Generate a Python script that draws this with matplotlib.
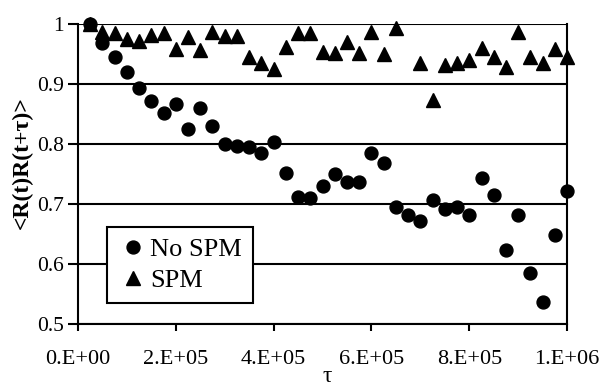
import numpy as np
import matplotlib
matplotlib.use("Agg")
import matplotlib.pyplot as plt

tau = [25000 * k for k in range(1, 41)]
no_spm = [1.0, 0.968, 0.945, 0.92, 0.893, 0.872, 0.851, 0.867, 0.825, 0.86,
          0.83, 0.80, 0.797, 0.795, 0.785, 0.803, 0.752, 0.712, 0.71, 0.73,
          0.75, 0.737, 0.737, 0.785, 0.768, 0.695, 0.682, 0.672, 0.707, 0.692,
          0.695, 0.682, 0.743, 0.715, 0.623, 0.682, 0.585, 0.537, 0.648, 0.722]
spm = [1.0, 0.987, 0.985, 0.975, 0.972, 0.982, 0.985, 0.958, 0.978, 0.957,
       0.987, 0.98, 0.98, 0.945, 0.935, 0.925, 0.962, 0.985, 0.985, 0.953,
       0.952, 0.97, 0.952, 0.987, 0.95, 0.993, np.nan, 0.935, 0.873, 0.932,
       0.935, 0.94, 0.96, 0.945, 0.928, 0.987, 0.945, 0.935, 0.958, 0.945]

xticks = [0, 200000, 400000, 600000, 800000, 1000000]
xticklabels = ["0.E+00", "2.E+05", "4.E+05", "6.E+05", "8.E+05", "1.E+06"]
yticks = [0.5, 0.6, 0.7, 0.8, 0.9, 1.0]
yticklabels = ["0.5", "0.6", "0.7", "0.8", "0.9", "1"]

plt.rcParams['font.family'] = ['Liberation Serif', 'DejaVu Serif']

fig = plt.figure(figsize=(6.04, 3.88), dpi=100)
ax = fig.add_axes([0.129, 0.165, 0.81, 0.773])

ax.plot(tau, no_spm, linestyle='none', marker='o', color='black',
        markersize=9.3, label='No SPM', zorder=3, clip_on=False)
ax.plot(tau, spm, linestyle='none', marker='^', color='black',
        markersize=10, label='SPM', zorder=3, clip_on=False)

ax.set_xlim(0, 1000000)
ax.set_ylim(0.5, 1.0)
ax.set_xticks(xticks)
ax.set_xticklabels(xticklabels)
ax.set_yticks(yticks)
ax.set_yticklabels(yticklabels)
ax.yaxis.grid(True, color='black', linewidth=1.5)
ax.set_axisbelow(True)
for s in ['left', 'bottom', 'right']:
    ax.spines[s].set_linewidth(1.5)
    ax.spines[s].set_color('black')
ax.spines['top'].set_visible(False)
ax.tick_params(axis='both', direction='out', width=1.5, colors='black')
ax.tick_params(axis='x', length=5, pad=14, labelsize=16)
ax.tick_params(axis='y', length=7, pad=3, labelsize=15.5)

ax.set_xlabel('τ', fontsize=17)
ax.xaxis.set_label_coords((327 - 78) / 489, -0.14)
ax.set_ylabel('<R(t)R(t+τ)>', fontsize=17, fontweight='bold')
ax.yaxis.set_label_coords(-0.092, 0.537)

leg = ax.legend(loc='lower left', bbox_to_anchor=(0.059, 0.07), fontsize=19,
                frameon=True, fancybox=False, edgecolor='black',
                handlelength=1.2, handletextpad=0.05, borderpad=0.4,
                labelspacing=0.3, borderaxespad=0)
leg.get_frame().set_linewidth(1.5)
leg.get_frame().set_facecolor('white')
leg.get_frame().set_alpha(1)

fig.savefig('out.png', dpi=100, facecolor='white')
